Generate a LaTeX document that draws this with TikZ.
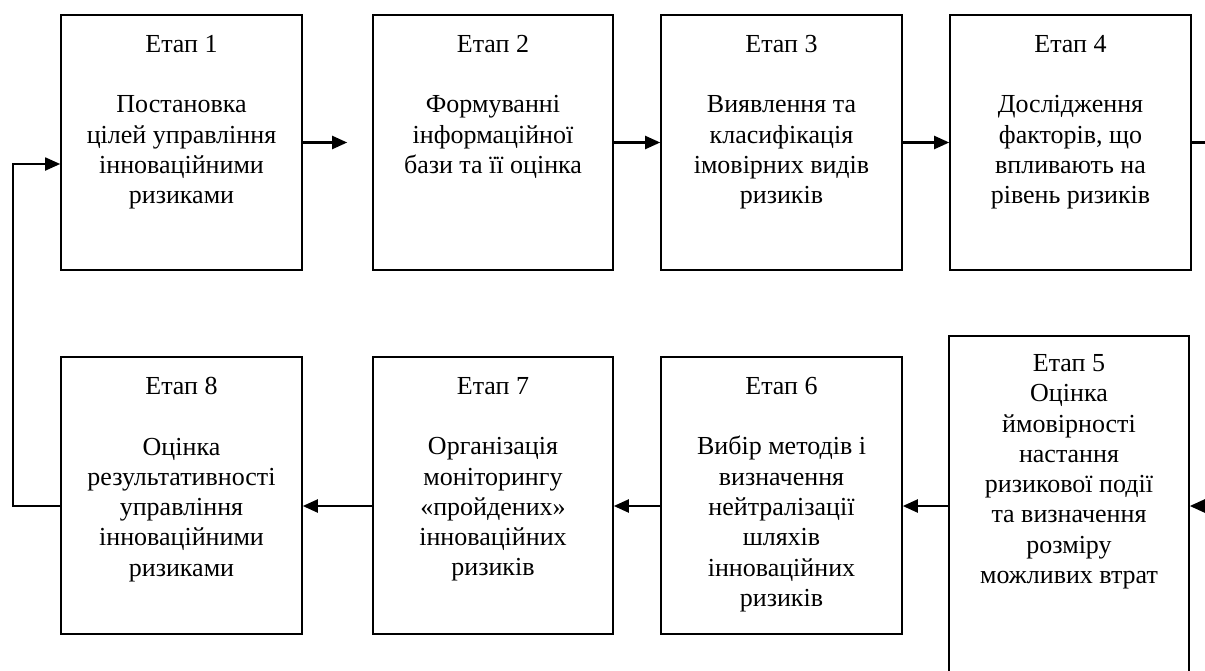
\documentclass[tikz,border=0pt]{standalone}
\usepackage{fontspec}
\setmainfont{Liberation Serif}
\usetikzlibrary{arrows.meta}
\tikzset{
  box/.style={draw, line width=1.6pt, rectangle, inner sep=0pt, minimum width=241pt},
  txt/.style={anchor=north, inner sep=0pt, align=center, font=\fontsize{26}{30.3}\selectfont},
  arr/.style={line width=2.2pt, -{Triangle[length=15pt,width=13pt]}},
}
\begin{document}
\begin{tikzpicture}[x=1pt,y=-1pt]
\useasboundingbox (0,0) rectangle (1205,670);
\clip (0,0) rectangle (1205,670);
% top row
\node[box, minimum height=255pt] (b1) at (181.5,142.5) {};
\node[box, minimum height=255pt, minimum width=240pt] (b2) at (493,142.5) {};
\node[box, minimum height=255pt] (b3) at (781.5,142.5) {};
\node[box, minimum height=255pt] (b4) at (1070.5,142.5) {};
% bottom row
\node[box, minimum height=277pt] (b8) at (181.5,495.5) {};
\node[box, minimum height=277pt, minimum width=240pt] (b7) at (493,495.5) {};
\node[box, minimum height=277pt] (b6) at (781.5,495.5) {};
\node[box, minimum height=344pt, minimum width=240pt] (b5) at (1069,508) {};
% texts
\node[txt] (t1) at ([yshift=-21pt]b1.north) {Етап 1\\[30pt]Постановка\\цілей управління\\інноваційними\\ризиками};
\node[txt] (t2) at ([yshift=-21pt]b2.north) {Етап 2\\[30pt]Формуванні\\інформаційної\\бази та її оцінка};
\node[txt] (t3) at ([yshift=-21pt]b3.north) {Етап 3\\[30pt]Виявлення та\\класифікація\\імовірних видів\\ризиків};
\node[txt] (t4) at ([yshift=-21pt]b4.north) {Етап 4\\[30pt]Дослідження\\факторів, що\\впливають на\\рівень ризиків};
\node[txt] (t5) at ([yshift=-19pt]b5.north) {Етап 5\\Оцінка\\ймовірності\\настання\\ризикової події\\та визначення\\розміру\\можливих втрат};
\node[txt] (t6) at ([yshift=-21pt]b6.north) {Етап 6\\[30pt]Вибір методів і\\визначення\\нейтралізації\\шляхів\\інноваційних\\ризиків};
\node[txt] (t7) at ([yshift=-21pt]b7.north) {Етап 7\\[30pt]Організація\\моніторингу\\«пройдених»\\інноваційних\\ризиків};
\node[txt] (t8) at ([yshift=-21pt]b8.north) {Етап 8\\[30pt]Оцінка\\результативності\\управління\\інноваційними\\ризиками};
% connectors
\coordinate (r) at (0,506);
\coordinate (lp) at (13,506);
\coordinate (rp) at (1240,142.5);
\draw[arr, shorten >=25pt] (b1.east) -- (b2.west);
\draw[arr] (b2.east) -- (b3.west);
\draw[arr] (b3.east) -- (b4.west);
\draw[arr] (b4.east) -- (rp) |- (b5.east|-r);
\draw[arr] (b5.west|-r) -- (b6.east|-r);
\draw[arr] (b6.west|-r) -- (b7.east|-r);
\draw[arr] (b7.west|-r) -- (b8.east|-r);
\draw[arr, line width=1.8pt] (b8.west|-r) -- (lp) |- ([yshift=-21.5pt]b1.west);
\end{tikzpicture}
\end{document}
